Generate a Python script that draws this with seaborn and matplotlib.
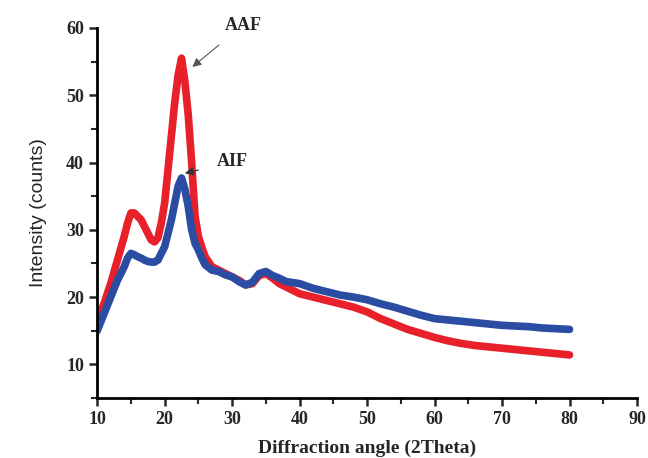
import numpy as np
import pandas as pd
import seaborn as sns
import matplotlib
matplotlib.use("Agg")
import matplotlib.pyplot as plt
from matplotlib.ticker import MultipleLocator

# values
angle = [10, 11, 12, 13, 14, 14.5, 15, 15.5, 16, 16.5, 17, 17.5, 18, 18.5, 19, 19.5,
         20, 20.5, 21, 21.5, 22, 22.5, 23, 23.5, 24, 24.5, 25, 25.5, 26, 27, 28, 29,
         30, 31, 32, 33, 34, 35, 36, 37, 38, 40, 42, 44, 46, 48, 50, 52, 54, 56, 58,
         60, 62, 64, 66, 68, 70, 72, 74, 76, 78, 80]
aaf = [16.5, 19, 22, 25.5, 29, 31, 32.5, 32.5, 32, 31.5, 30.5, 29.5, 28.5, 28.2, 28.8, 31,
       34, 39, 44, 49, 53, 55.5, 52, 47, 40, 32, 29, 27.4, 26, 24.5, 24, 23.5,
       23, 22.5, 21.8, 22, 23.2, 23.5, 22.8, 22, 21.5, 20.5, 20, 19.5, 19, 18.5, 17.8, 16.8, 16, 15.2, 14.6,
       14, 13.5, 13.1, 12.8, 12.6, 12.4, 12.2, 12, 11.8, 11.6, 11.4]
aif = [15, 17.5, 20, 22.5, 24.5, 25.8, 26.5, 26.3, 26, 25.8, 25.5, 25.3, 25.2, 25.2, 25.5, 26.5,
       27.5, 29.5, 31.5, 34, 36.5, 37.7, 36, 33.4, 30, 28, 27, 25.8, 24.8, 24, 23.8, 23.3,
       23, 22.3, 21.8, 22.2, 23.5, 23.8, 23.2, 22.8, 22.3, 22, 21.3, 20.8, 20.3, 20, 19.6, 19, 18.5, 17.9, 17.3,
       16.8, 16.6, 16.4, 16.2, 16, 15.8, 15.7, 15.6, 15.4, 15.3, 15.2]

df = pd.DataFrame({"angle": angle, "AAF": aaf, "AIF": aif})

sns.set_style("ticks")
plt.rcParams['font.family'] = ['Liberation Serif', 'DejaVu Serif']

fig = plt.figure(figsize=(6.48, 4.58), dpi=100)
ax = fig.add_axes([0.15, 0.131, 0.833, 0.808])

sns.lineplot(data=df, x="angle", y="AAF", color="#e8202a", lw=5.5, ax=ax)
sns.lineplot(data=df, x="angle", y="AIF", color="#2a4ca2", lw=5.5, ax=ax)

ax.set_xlim(10, 90)
ax.set_ylim(5, 60)
ax.xaxis.set_major_locator(MultipleLocator(10))
ax.xaxis.set_minor_locator(MultipleLocator(5))
ax.yaxis.set_major_locator(MultipleLocator(10))
ax.yaxis.set_minor_locator(MultipleLocator(5))
ax.set_yticks([10, 20, 30, 40, 50, 60])
ax.tick_params(which="major", length=6, width=1.8, direction="out", labelsize=13)
ax.tick_params(which="minor", length=4, width=1.5, direction="out")
for lbl in ax.get_xticklabels() + ax.get_yticklabels():
    lbl.set_fontweight("bold")

sns.despine(ax=ax)
for s in ["left", "bottom"]:
    ax.spines[s].set_linewidth(2)
    ax.spines[s].set_color("black")

ax.set_xlabel("Diffraction angle (2Theta)", fontsize=14, fontweight="bold", labelpad=8)
ax.set_ylabel("Intensity (counts)", fontsize=14, family=["Liberation Sans"], labelpad=14)

ax.annotate("AAF", xy=(24.1, 54.2), xytext=(31.6, 60.4), fontsize=13, fontweight="bold",
            ha="center", va="center", annotation_clip=False,
            arrowprops=dict(arrowstyle="-|>", color="#555555", lw=0.8, shrinkA=9, shrinkB=0))
ax.annotate("AIF", xy=(23.0, 38.4), xytext=(30.0, 40.1), fontsize=13, fontweight="bold",
            ha="center", va="center",
            arrowprops=dict(arrowstyle="-|>", color="#333333", lw=0.8, shrinkA=11, shrinkB=0))

fig.savefig("out.png", dpi=100)
